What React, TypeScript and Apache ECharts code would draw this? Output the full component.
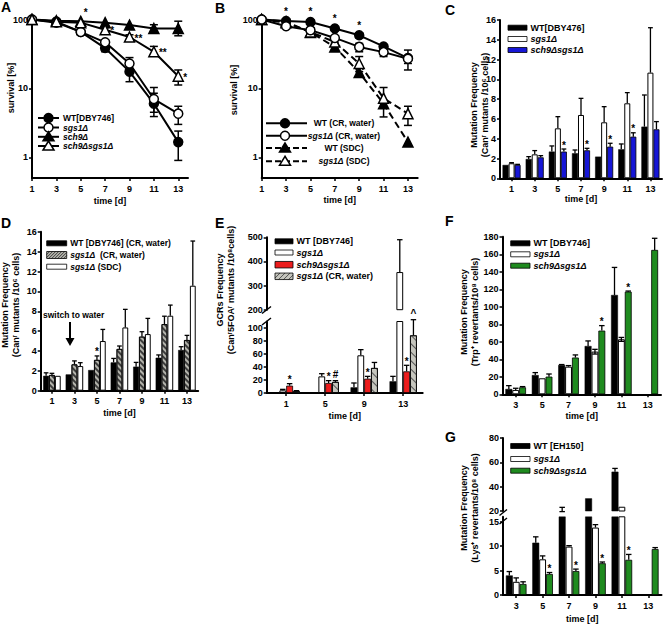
import React, { useEffect, useRef } from "react";
import * as echarts from "echarts";

const FONT = '"Liberation Sans", Arial, Helvetica, sans-serif';
const BLACK = "#000";

// ===== Panel A: survival (%) =====
const aDays = [1, 3, 5, 7, 9, 11, 13];
const aNames = ["WT[DBY746]", "{i|sgs1Δ}", "{i|sch9Δ}", "{i|sch9Δsgs1Δ}"];
const aWT = [100, 93, 66, 38.5, 17.5, 6.0, 1.66];
const aWTLo = [null, null, null, 34, 12.5, 3.9, 0.9];
const aWTHi = [null, null, null, 40, 22, 8.5, 2.4];
const aSgs1 = [100, 90, 66, 46.6, 23, 7.0, 4.3];
const aSgs1Lo = [null, null, null, null, 19.6, 4.5, 3.0];
const aSgs1Hi = [null, null, null, null, 28, 10.3, 5.5];
const aSch9 = [100, 96, 94, 90, 83, 74, 74];
const aSch9Lo = [null, null, null, null, null, 67, 58];
const aSch9Hi = [null, null, null, null, null, 84, 94.5];
const aDbl = [100, 93, 90, 71, 55.7, 34, 15];
const aDblLo = [null, null, null, 64, 51, 30.7, 11.2];
const aDblHi = [null, null, null, 76, 60, 40.7, 18.5];
const aMarksAbove = ["", "", "*", "", "", "", ""];
const aMarksRight = ["", "", "", "*", "**", "**", "*"];

// ===== Panel B: survival (%) CR vs SDC =====
const bDays = [1, 3, 5, 7, 9, 11, 13];
const bNames = ["WT (CR, water)", "{i|sgs1Δ} (CR, water)", "WT (SDC)", "{i|sgs1Δ} (SDC)"];
const bWTcr = [100, 95, 92, 74, 59, 40.6, 27.5];
const bWTcrLo = [null, null, null, null, 54, null, 23];
const bWTcrHi = [null, null, null, null, 63.7, null, 30];
const bSgs1cr = [100, 80, 70, 54, 40, 33.6, 27];
const bSgs1crLo = [null, null, null, null, 34, 29, 18.5];
const bSgs1crHi = [null, null, null, null, 45, 37, 36];
const bWTsdc = [100, 93, 65, 40, 17, 6.0, 1.66];
const bWTsdcLo = [null, null, null, 36, null, null, null];
const bWTsdcHi = [null, null, null, 45.6, null, null, null];
const bSgs1sdc = [100, 90, 66, 47, 23, 7.2, 4.3];
const bSgs1sdcLo = [null, null, 57, null, 17.5, 3.85, 2.9];
const bSgs1sdcHi = [null, null, 75.7, null, 29, 10.3, 5.5];
const bMarks = ["", "*", "*", "*", "*", "", ""];

// ===== Panel C: Can^r mutation frequency =====
const cDays = ["1", "3", "5", "7", "9", "11", "13"];
const cNames = ["WT[DBY476]", "{i|sgs1Δ}", "{i|sch9Δsgs1Δ}"];
const cWT = [1.35, 1.95, 2.7, 2.53, 2.19, 2.93, 5.22];
const cWTHi = [null, 2.19, 3.27, 2.86, null, 3.47, 8.42];
const cSgs1 = [1.52, 2.42, 5.05, 6.4, 5.66, 7.58, 10.68];
const cSgs1Hi = [1.58, 2.8, 6.23, 8.08, 7.24, 8.66, 15.22];
const cDbl = [1.35, 2.12, 2.7, 2.83, 3.2, 4.21, 4.95];
const cDblHi = [1.41, 2.29, 2.96, 3.03, 3.54, 4.6, 5.73];
const cDblMarks = ["", "", "*", "*", "*", "*", ""];
const cTicks = [0, 2, 4, 6, 8, 10, 12, 14, 16];

// ===== Panel D: Can^r, CR vs SDC =====
const dDays = ["1", "3", "5", "7", "9", "11", "13"];
const dNames = ["WT [DBY746] (CR, water)", "{i|sgs1Δ}  (CR, water)", "{i|sgs1Δ} (SDC)"];
const dWT = [1.5, 1.64, 2.08, 2.85, 2.42, 3.32, 4.1];
const dWTHi = [1.8, null, null, 3.25, 2.85, 3.6, 4.43];
const dCr = [1.58, 2.65, 3.1, 4.2, 5.44, 6.7, 5.1];
const dCrHi = [1.75, 3.0, 3.5, 4.5, 5.94, 7.5, 5.57];
const dCrMarks = ["", "", "*", "", "", "", ""];
const dSdc = [1.5, 2.48, 5.0, 6.37, 5.7, 7.55, 10.57];
const dSdcHi = [null, 2.82, 6.17, 8.19, 7.28, 8.62, 15.07];
const dTicks = [0, 2, 4, 6, 8, 10, 12, 14, 16];

// ===== Panel E: GCRs frequency =====
const eDays = ["1", "5", "9", "13"];
const eNames = ["WT [DBY746]", "{i|sgs1Δ}", "{i|sch9Δsgs1Δ}", "{i|sgs1Δ} (CR, water)"];
const eWT = [0, 1, 8.7, 18];
const eWTHi = [null, null, 15.4, 25.6];
const eSgs1 = [4.1, 25.6, 58, 356];
const eSgs1Hi = [5.6, 29.7, 66.7, 490];
const eDbl = [11.3, 15.4, 22, 33.3];
const eDblHi = [14.4, 19, 25.6, 42.6];
const eDblMarks = ["*", "*", "*", "*"];
const eCr = [3, 17, 38.5, 88.7];
const eCrHi = [3.6, 19, 47, 112.8];
const eCrMarks = ["", "#", "", "^"];
const eLowTicks = [0, 20, 40, 60, 80, 100];
const eHighTicks = [200, 300, 400, 500];

// ===== Panel F: Trp+ revertants =====
const fDays = ["3", "5", "7", "9", "11", "13"];
const fNames = ["WT [DBY746]", "{i|sgs1Δ}", "{i|sch9Δsgs1Δ}"];
const fWT = [6.1, 22, 33.5, 55.2, 113.5, null];
const fWTHi = [9.9, 24.8, 34, 61, 145, null];
const fSgs1 = [5, 18.3, 31.6, 48.8, 62.9, null];
const fSgs1Lo = [null, null, null, 46, 60.5, null];
const fSgs1Hi = [6.9, null, 32.8, 51.4, 65, null];
const fDbl = [8, 20.2, 42, 72.8, 117.3, 165];
const fDblHi = [8.8, 23.2, 45, 78.5, 118, 178.3];
const fDblMarks = ["", "", "", "*", "*", ""];
const fTicks = [0, 20, 40, 60, 80, 100, 120, 140, 160, 180];

// ===== Panel G: Lys+ revertants =====
const gDays = ["3", "5", "7", "9", "11", "13"];
const gNames = ["WT [EH150]", "{i|sgs1Δ}", "{i|sch9Δsgs1Δ}"];
const gWT = [4.0, 10.7, 20, 30.4, 52.3, null];
const gWTLo = [null, null, 19.5, null, null, null];
const gWTHi = [4.8, 11.9, 23, null, 55, null];
const gSgs1 = [2.7, 7.3, 9.9, 13.8, 23.5, null];
const gSgs1Hi = [3.5, 8.0, 10.1, 14.4, null, null];
const gDbl = [2.25, 4.3, 4.9, 6.5, 7.2, 9.4];
const gDblHi = [2.7, 4.6, 5.3, 6.75, 8.3, 9.7];
const gDblMarks = ["", "*", "*", "*", "*", ""];
const gLowTicks = [0, 5, 10, 15];
const gHighTicks = [20, 40, 60, 80];

const timeTicks = [1, 3, 5, 7, 9, 11, 13];
const logTicks = [1, 10, 100];

// ---------- helpers ----------
const lineSt = { color: BLACK, width: 2 };
const tickSt = { color: BLACK, width: 1.5 };
const txt = (size = 9) => ({ color: BLACK, fontFamily: FONT, fontWeight: "bold", fontSize: size });

function valXAxis(gi: number, gap: number) {
  return {
    type: "value", gridIndex: gi, min: 1, max: 13.8,
    axisLine: { show: true, onZero: false, lineStyle: lineSt },
    axisTick: { show: true, length: 3, lineStyle: tickSt, customValues: timeTicks },
    axisLabel: { ...txt(), margin: 6, customValues: timeTicks },
    splitLine: { show: false },
    name: "time [d]", nameLocation: "middle", nameGap: gap, nameTextStyle: txt(),
  };
}
function catXAxis(gi: number, cats: string[], gap: number, show = true) {
  return {
    type: "category", gridIndex: gi, data: cats, show,
    axisLine: { show: true, onZero: false, lineStyle: lineSt },
    axisTick: { show: true, alignWithLabel: true, length: 3, lineStyle: tickSt },
    axisLabel: { ...txt(), margin: 6 },
    splitLine: { show: false },
    name: show ? "time [d]" : "", nameLocation: "middle", nameGap: gap, nameTextStyle: txt(),
  };
}
function yAxis(gi: number, type: string, min: number, max: number, ticks: number[]) {
  return {
    type, gridIndex: gi, min, max, logBase: 10,
    axisLine: { show: true, onZero: false, lineStyle: lineSt },
    axisTick: { show: true, length: 3, lineStyle: tickSt, customValues: ticks },
    axisLabel: { ...txt(), margin: 4, customValues: ticks },
    splitLine: { show: false },
  };
}

function lineSeries(gi: number, days: number[], vals: number[], symbol: string, filled: boolean, dashed: boolean) {
  return {
    type: "line", xAxisIndex: gi, yAxisIndex: gi, clip: false, z: 3,
    data: days.map((d, i) => [d, vals[i]]),
    symbol, symbolSize: symbol === "triangle" ? 10 : 9,
    itemStyle: { color: filled ? BLACK : "#fff", borderColor: BLACK, borderWidth: 1.5 },
    lineStyle: { color: BLACK, width: 2, type: dashed ? [7, 4] : "solid" },
  };
}
function pointErr(gi: number, days: number[], lo: any[], hi: any[]) {
  const data: any[] = [];
  days.forEach((d, i) => { if (lo[i] != null && hi[i] != null) data.push([d, lo[i], hi[i]]); });
  return {
    type: "custom", xAxisIndex: gi, yAxisIndex: gi, z: 2, clip: false, data,
    encode: { x: 0, y: [1, 2] },
    renderItem: (_p: any, api: any) => {
      const x = api.value(0);
      const a = api.coord([x, api.value(1)]);
      const b = api.coord([x, api.value(2)]);
      const st = { stroke: BLACK, lineWidth: 1.5 };
      const cap = 4;
      return {
        type: "group", children: [
          { type: "line", shape: { x1: a[0], y1: a[1], x2: b[0], y2: b[1] }, style: st },
          { type: "line", shape: { x1: a[0] - cap, y1: a[1], x2: a[0] + cap, y2: a[1] }, style: st },
          { type: "line", shape: { x1: b[0] - cap, y1: b[1], x2: b[0] + cap, y2: b[1] }, style: st },
        ],
      };
    },
  };
}
function pointMarks(gi: number, days: number[], vals: number[], marks: string[], mode: string) {
  const data: any[] = [];
  days.forEach((d, i) => { if (marks[i]) data.push([d, vals[i], i]); });
  return {
    type: "custom", xAxisIndex: gi, yAxisIndex: gi, z: 4, clip: false, data,
    encode: { x: 0, y: 1 },
    renderItem: (_p: any, api: any) => {
      const i = api.value(2);
      const p = api.coord([api.value(0), api.value(1)]);
      const above = mode === "above";
      return {
        type: "text",
        x: above ? p[0] + (gi === 0 ? 5 : 0) : p[0] + 5,
        y: above ? p[1] - 5 : p[1] + 1,
        style: {
          text: marks[i], fill: BLACK, fontFamily: FONT, fontWeight: "bold", fontSize: 10,
          align: above ? "center" : "left", verticalAlign: above ? "bottom" : "middle",
        },
      };
    },
  };
}

function barSeries(xi: number, yi: number, vals: any[], itemStyle: any, gap: number) {
  return {
    type: "bar", xAxisIndex: xi, yAxisIndex: yi, z: 2,
    data: vals.map((v) => (v == null ? null : v)),
    barGap: "0%", barCategoryGap: gap * 100 + "%",
    itemStyle,
  };
}
function barErr(xi: number, yi: number, idx: number, n: number, gap: number,
  vals: any[], lo: any[] | null, hi: any[] | null, marks: string[] | null, keep: (top: number) => boolean) {
  const data: any[] = [];
  vals.forEach((v, k) => {
    const hasErr = !!(hi && hi[k] != null);
    const m = marks ? marks[k] : "";
    if (!hasErr && !m) return;
    const top = hasErr ? (hi as any[])[k] : v;
    if (top == null || !keep(top)) return;
    const bottom = lo && lo[k] != null ? lo[k] : v;
    data.push([k, bottom, top, hasErr ? 1 : 0, lo && lo[k] != null ? 1 : 0]);
  });
  return {
    type: "custom", xAxisIndex: xi, yAxisIndex: yi, z: 4, clip: false, data,
    encode: { x: 0, y: [1, 2] },
    renderItem: (_p: any, api: any) => {
      const k = api.value(0);
      const band = api.size([1, 0])[0];
      const gw = band * (1 - gap);
      const bw = gw / n;
      const c = api.coord([k, api.value(2)]);
      const b = api.coord([k, api.value(1)]);
      const cx = c[0] - gw / 2 + bw * (idx + 0.5);
      const cap = Math.max(2, bw * 0.4);
      const st = { stroke: BLACK, lineWidth: 1.3 };
      const children: any[] = [];
      if (api.value(3)) {
        children.push({ type: "line", shape: { x1: cx, y1: b[1], x2: cx, y2: c[1] }, style: st });
        children.push({ type: "line", shape: { x1: cx - cap, y1: c[1], x2: cx + cap, y2: c[1] }, style: st });
        if (api.value(4)) children.push({ type: "line", shape: { x1: cx - cap, y1: b[1], x2: cx + cap, y2: b[1] }, style: st });
      }
      const m = marks ? marks[k] : "";
      if (m) {
        children.push({
          type: "text", x: cx, y: c[1] + (m === "*" ? 1 : -1),
          style: { text: m, fill: BLACK, fontFamily: FONT, fontWeight: "bold", fontSize: 10, align: "center", verticalAlign: "bottom" },
        });
      }
      return { type: "group", children };
    },
  };
}

// ---------- graphic helpers ----------
function label(x: number, y: number, text: string, size: number, align = "left", extra: any = {}) {
  return {
    type: "text", x, y, silent: true, z: 10, ...extra,
    style: {
      text, fill: BLACK, fontFamily: FONT, fontWeight: "bold", fontSize: size, align, verticalAlign: "middle",
      rich: { i: { fontStyle: "italic", fontWeight: "bold", fontSize: size, fontFamily: FONT, fill: BLACK } },
    },
  };
}
function lineLegend(x0: number, x1: number, y: number, symbol: string, filled: boolean, dashed: boolean,
  text: string, tx: number, size: number, align = "left", mx?: number) {
  const cx = mx != null ? mx : (x0 + x1) / 2;
  const fill = filled ? BLACK : "#fff";
  const mk = symbol === "circle"
    ? { type: "circle", shape: { cx, cy: y, r: 4.5 }, style: { fill, stroke: BLACK, lineWidth: 1.5 } }
    : { type: "polygon", shape: { points: [[cx, y - 5], [cx - 5.5, y + 4], [cx + 5.5, y + 4]] }, style: { fill, stroke: BLACK, lineWidth: 1.5 } };
  return [
    { type: "line", shape: { x1: x0, y1: y, x2: x1, y2: y }, style: { stroke: BLACK, lineWidth: 2, lineDash: dashed ? [6, 3] : null } },
    mk,
    label(tx, y, text, size, align),
  ];
}
function barLegend(x: number, y: number, w: number, h: number, fill: string, text: string, size: number,
  hatch?: { step: number; color: string }) {
  const els: any[] = [{ type: "rect", shape: { x, y: y - h / 2, width: w, height: h }, style: { fill, stroke: "none" } }];
  if (hatch) {
    for (let s = x - h; s < x + w; s += hatch.step) {
      let xa = s, ya = y + h / 2, xb = s + h, yb = y - h / 2;
      if (xa < x) { ya -= x - xa; xa = x; }
      if (xb > x + w) { yb += xb - (x + w); xb = x + w; }
      if (xb > xa) els.push({ type: "line", shape: { x1: xa, y1: ya, x2: xb, y2: yb }, style: { stroke: hatch.color, lineWidth: 1 } });
    }
  }
  els.push({ type: "rect", shape: { x, y: y - h / 2, width: w, height: h }, style: { fill: "none", stroke: BLACK, lineWidth: 0.8 } });
  els.push(label(x + w + 3.5, y, text, size));
  return els;
}
function vTitle(x: number, y: number, text: string) {
  return {
    type: "text", x, y, rotation: Math.PI / 2, silent: true,
    style: { text, fill: BLACK, fontFamily: FONT, fontWeight: "bold", fontSize: 9, align: "center", verticalAlign: "middle", lineHeight: 11 },
  };
}
function letter(x: number, y: number, t: string) {
  return { type: "text", x, y, silent: true, style: { text: t, fill: BLACK, fontFamily: FONT, fontWeight: "bold", fontSize: 14, align: "left", verticalAlign: "top" } };
}
function seg(x1: number, y1: number, x2: number, y2: number, w = 1.5) {
  return { type: "line", shape: { x1, y1, x2, y2 }, style: { stroke: BLACK, lineWidth: w } };
}

function buildOption() {
  const G = 0.22; // category gap for 3-bar panels
  const GE = 0.3;
  const blackBar = { color: BLACK, borderColor: BLACK, borderWidth: 0.5 };
  const whiteBar = { color: "#fff", borderColor: BLACK, borderWidth: 1 };
  const blueBar = { color: "#1616d6", borderColor: "#000", borderWidth: 0.8 };
  const redBar = { color: "#ec1c1c", borderColor: "#000", borderWidth: 0.8 };
  const greenBar = { color: "#1f8b1f", borderColor: "#000", borderWidth: 0.8 };
  const hatchD = {
    color: "#b4b4ac", borderColor: BLACK, borderWidth: 0.8,
    decal: { symbol: "rect", symbolSize: 1, dashArrayX: [1, 0], dashArrayY: [1.5, 2], rotation: Math.PI / 4, color: "#3c3c3c" },
  };
  const hatchE = {
    color: "#c6c6be", borderColor: BLACK, borderWidth: 0.8,
    decal: { symbol: "rect", symbolSize: 1, dashArrayX: [1, 0], dashArrayY: [1, 5], rotation: Math.PI / 4, color: "#555" },
  };
  const all = () => true;
  const eLowMax = 110, eHighMin = 200, gLowMax = 16, gHighMin = 20;
  const upE = (v: any[]) => v.map((x) => (x != null && x > eHighMin ? x : null));
  const upG = (v: any[]) => v.map((x) => (x != null && x > gHighMin ? x : null));

  const grids = [
    [32, 19.5, 156, 158.5],
    [261.7, 19.5, 156, 158.5],
    [500, 20, 162, 158.3],
    [40.7, 231.8, 157.5, 158.9],
    [266.7, 321.5, 156, 71.5],
    [266.7, 237.3, 156, 72.4],
    [502.5, 236.8, 158.5, 157.5],
    [503, 516.8, 158.5, 78.2],
    [503, 438, 158.5, 73],
  ];

  const series: any[] = [
    // A
    pointErr(0, aDays, aWTLo, aWTHi),
    pointErr(0, aDays, aSgs1Lo, aSgs1Hi),
    pointErr(0, aDays, aSch9Lo, aSch9Hi),
    pointErr(0, aDays, aDblLo, aDblHi),
    lineSeries(0, aDays, aWT, "circle", true, false),
    lineSeries(0, aDays, aSgs1, "circle", false, false),
    lineSeries(0, aDays, aSch9, "triangle", true, false),
    lineSeries(0, aDays, aDbl, "triangle", false, false),
    pointMarks(0, aDays, aDbl, aMarksAbove, "above"),
    pointMarks(0, aDays, aDbl, aMarksRight, "right"),
    // B
    pointErr(1, bDays, bWTcrLo, bWTcrHi),
    pointErr(1, bDays, bSgs1crLo, bSgs1crHi),
    pointErr(1, bDays, bWTsdcLo, bWTsdcHi),
    pointErr(1, bDays, bSgs1sdcLo, bSgs1sdcHi),
    lineSeries(1, bDays, bWTsdc, "triangle", true, true),
    lineSeries(1, bDays, bSgs1sdc, "triangle", false, true),
    lineSeries(1, bDays, bWTcr, "circle", true, false),
    lineSeries(1, bDays, bSgs1cr, "circle", false, false),
    pointMarks(1, bDays, bWTcr, bMarks, "above"),
    // C
    barSeries(2, 2, cWT, blackBar, G),
    barSeries(2, 2, cSgs1, whiteBar, G),
    barSeries(2, 2, cDbl, blueBar, G),
    barErr(2, 2, 0, 3, G, cWT, null, cWTHi, null, all),
    barErr(2, 2, 1, 3, G, cSgs1, null, cSgs1Hi, null, all),
    barErr(2, 2, 2, 3, G, cDbl, null, cDblHi, cDblMarks, all),
    // D
    barSeries(3, 3, dWT, blackBar, G),
    barSeries(3, 3, dCr, hatchD, G),
    barSeries(3, 3, dSdc, whiteBar, G),
    barErr(3, 3, 0, 3, G, dWT, null, dWTHi, null, all),
    barErr(3, 3, 1, 3, G, dCr, null, dCrHi, dCrMarks, all),
    barErr(3, 3, 2, 3, G, dSdc, null, dSdcHi, null, all),
    // E lower
    barSeries(4, 4, eWT, blackBar, GE),
    barSeries(4, 4, eSgs1, whiteBar, GE),
    barSeries(4, 4, eDbl, redBar, GE),
    barSeries(4, 4, eCr, hatchE, GE),
    // E upper
    barSeries(5, 5, upE(eWT), blackBar, GE),
    barSeries(5, 5, upE(eSgs1), whiteBar, GE),
    barSeries(5, 5, upE(eDbl), redBar, GE),
    barSeries(5, 5, upE(eCr), hatchE, GE),
  ];
  const eSets: any[] = [[eWT, eWTHi, null], [eSgs1, eSgs1Hi, null], [eDbl, eDblHi, eDblMarks], [eCr, eCrHi, eCrMarks]];
  eSets.forEach(([v, h, m], i) => {
    series.push(barErr(4, 4, i, 4, GE, v, null, h, m, (t) => t <= eLowMax + 5));
    series.push(barErr(5, 5, i, 4, GE, v, null, h, m, (t) => t > eLowMax + 5));
  });
  // F
  series.push(
    barSeries(6, 6, fWT, blackBar, G),
    barSeries(6, 6, fSgs1, whiteBar, G),
    barSeries(6, 6, fDbl, greenBar, G),
    barErr(6, 6, 0, 3, G, fWT, null, fWTHi, null, all),
    barErr(6, 6, 1, 3, G, fSgs1, fSgs1Lo, fSgs1Hi, null, all),
    barErr(6, 6, 2, 3, G, fDbl, null, fDblHi, fDblMarks, all),
  );
  // G
  series.push(
    barSeries(7, 7, gWT, blackBar, G),
    barSeries(7, 7, gSgs1, whiteBar, G),
    barSeries(7, 7, gDbl, greenBar, G),
    barSeries(8, 8, upG(gWT), blackBar, G),
    barSeries(8, 8, upG(gSgs1), whiteBar, G),
    barSeries(8, 8, upG(gDbl), greenBar, G),
  );
  const gSets: any[] = [[gWT, gWTLo, gWTHi, null], [gSgs1, null, gSgs1Hi, null], [gDbl, null, gDblHi, gDblMarks]];
  gSets.forEach(([v, l, h, m], i) => {
    series.push(barErr(7, 7, i, 3, G, v, l, h, m, (t) => t <= gLowMax));
    series.push(barErr(8, 8, i, 3, G, v, l, h, m, (t) => t > gLowMax));
  });

  const graphics: any[] = [
    letter(1, 0, "A"), letter(215, 1, "B"), letter(445, 3, "C"),
    letter(1, 216, "D"), letter(215, 216, "E"), letter(445, 214, "F"), letter(445, 430, "G"),
    vTitle(11, 88, "survival [%]"),
    vTitle(234, 90, "survival [%]"),
    vTitle(479.5, 105, "Mutation Frequency\n(Canʳ mutants /10⁶ cells)"),
    vTitle(10.5, 305, "Mutation Frequency\n(Canʳ mutants /10⁶ cells)"),
    vTitle(225.5, 290, "GCRs Frequency\n(Canʳ5FOAʳ mutants /10⁸cells)"),
    vTitle(469, 312, "Mutation Frequency\n(Trp⁺ revertants/10⁸ cells)"),
    vTitle(469, 508, "Mutation Frequency\n(Lys⁺ revertants/10⁸ cells)"),
    // axis breaks
    seg(262, 313.5, 271, 306.5), seg(262, 325, 271, 318),
    seg(499.5, 515.5, 507, 509.5), seg(499.5, 524, 507, 518),
    // switch to water
    label(43, 315, "switch to water", 8.5, "left"),
    seg(70, 322, 70, 340, 2),
    { type: "polygon", z: 10, shape: { points: [[65.5, 338], [74.5, 338], [70, 346]] }, style: { fill: BLACK } },
  ];
  // legends
  const aSym: any[] = [["circle", true], ["circle", false], ["triangle", true], ["triangle", false]];
  const aY = [118, 127.5, 136.8, 146];
  aNames.forEach((n, i) => graphics.push(...lineLegend(38, 59, aY[i], aSym[i][0], aSym[i][1], false, n, 63, 8.5)));
  const bSym: any[] = [["circle", true, false], ["circle", false, false], ["triangle", true, true], ["triangle", false, true]];
  const bY = [123.3, 135.7, 148, 161.3];
  bNames.forEach((n, i) => graphics.push(...lineLegend(266, 307, bY[i], bSym[i][0], bSym[i][1], bSym[i][2], n, 344, 8.5, "center", 285)));
  const cFill = [BLACK, "#fff", "#1616d6"];
  const cY = [27.7, 39, 50];
  cNames.forEach((n, i) => graphics.push(...barLegend(508, cY[i], 19, 5, cFill[i], n, 9)));
  const dFill = [BLACK, "#b4b4ac", "#fff"];
  const dY = [243.3, 255, 266.7];
  dNames.forEach((n, i) => graphics.push(...barLegend(46.7, dY[i], 20, i === 1 ? 7 : 5, dFill[i], n, 8.5, i === 1 ? { step: 3, color: "#3c3c3c" } : undefined)));
  const eFill = [BLACK, "#fff", "#ec1c1c", "#c6c6be"];
  const eY = [241.3, 252.5, 264.7, 276.3];
  eNames.forEach((n, i) => graphics.push(...barLegend(275, eY[i], 18, i >= 2 ? 6.5 : 5, eFill[i], n, 9, i === 3 ? { step: 5, color: "#555" } : undefined)));
  const fgFill = [BLACK, "#fff", "#1f8b1f"];
  const fY = [243.3, 254.3, 265.7];
  fNames.forEach((n, i) => graphics.push(...barLegend(510.7, fY[i], 19.3, 5, fgFill[i], n, 9)));
  const gY = [446, 459, 470.7];
  gNames.forEach((n, i) => graphics.push(...barLegend(510.7, gY[i], 19.3, 5, fgFill[i], n, 9)));

  return {
    animation: false,
    backgroundColor: "#fff",
    textStyle: { fontFamily: FONT },
    grid: grids.map((g) => ({ left: g[0], top: g[1], width: g[2], height: g[3], containLabel: false })),
    xAxis: [
      valXAxis(0, 18),
      valXAxis(1, 17),
      catXAxis(2, cDays, 16),
      catXAxis(3, dDays, 18),
      catXAxis(4, eDays, 18),
      catXAxis(5, eDays, 18, false),
      catXAxis(6, fDays, 17),
      catXAxis(7, gDays, 19),
      catXAxis(8, gDays, 18, false),
    ],
    yAxis: [
      yAxis(0, "log", 0.5, 100, logTicks),
      yAxis(1, "log", 0.5, 100, logTicks),
      yAxis(2, "value", 0, 16, cTicks),
      yAxis(3, "value", 0, 16, dTicks),
      yAxis(4, "value", 0, eLowMax, eLowTicks),
      yAxis(5, "value", eHighMin, 500, eHighTicks),
      yAxis(6, "value", 0, 180, fTicks),
      yAxis(7, "value", 0, gLowMax, gLowTicks),
      yAxis(8, "value", gHighMin, 80, gHighTicks),
    ],
    series,
    graphic: { elements: graphics },
  };
}

export default function App() {
  const ref = useRef<HTMLDivElement>(null);
  useEffect(() => {
    document.body.style.margin = "0";
    const chart = echarts.init(ref.current as HTMLDivElement, null, { renderer: "svg" });
    chart.setOption(buildOption() as any);
    return () => chart.dispose();
  }, []);
  return <div ref={ref} style={{ width: 664, height: 625 }} />;
}
